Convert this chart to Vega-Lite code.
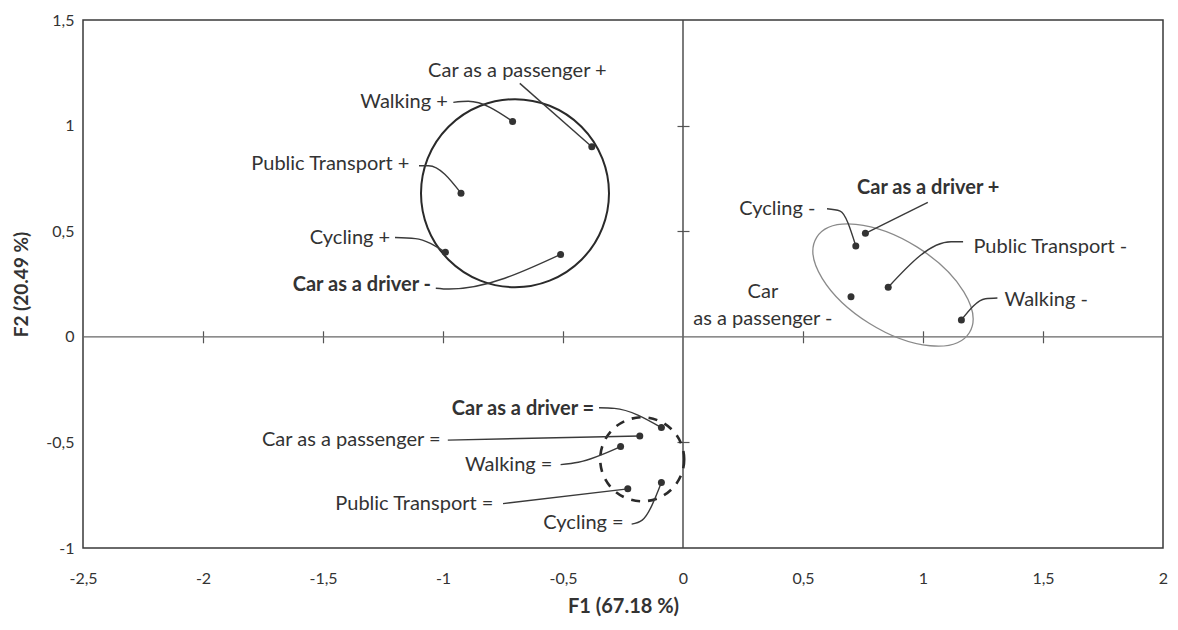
{
  "$schema": "https://vega.github.io/schema/vega-lite/v6.json",
  "width": 1080,
  "height": 528,
  "autosize": {"type": "none"},
  "padding": {"left": 83, "top": 20, "right": 15, "bottom": 82},
  "background": "white",
  "config": {
    "view": {"stroke": "#3a3a3a", "strokeWidth": 1.5},
    "font": "Lato",
    "text": {"font": "Lato", "fontSize": 20, "color": "#333333", "baseline": "middle"}
  },
  "datasets": {
    "origin": [{"F1": 0, "F2": 0}],
    "groups": [
      {"group": "+", "cx": -0.70, "cy": 0.68},
      {"group": "-", "cx": 0.875, "cy": 0.245},
      {"group": "=", "cx": -0.17, "cy": -0.58}
    ],
    "points": [
      {"modality": "Walking", "level": "+", "label": "Walking +", "F1": -0.71, "F2": 1.02, "lx": -0.98, "ly": 1.11},
      {"modality": "Car as a passenger", "level": "+", "label": "Car as a passenger +", "F1": -0.38, "F2": 0.90, "lx": -0.69, "ly": 1.26},
      {"modality": "Public Transport", "level": "+", "label": "Public Transport +", "F1": -0.925, "F2": 0.68, "lx": -1.14, "ly": 0.82},
      {"modality": "Cycling", "level": "+", "label": "Cycling +", "F1": -0.99, "F2": 0.40, "lx": -1.22, "ly": 0.467},
      {"modality": "Car as a driver", "level": "-", "label": "Car as a driver -", "F1": -0.51, "F2": 0.39, "lx": -1.05, "ly": 0.244},
      {"modality": "Cycling", "level": "-", "label": "Cycling -", "F1": 0.72, "F2": 0.43, "lx": 0.552, "ly": 0.606},
      {"modality": "Car as a driver", "level": "+", "label": "Car as a driver +", "F1": 0.76, "F2": 0.49, "lx": 0.725, "ly": 0.706},
      {"modality": "Public Transport", "level": "-", "label": "Public Transport -", "F1": 0.855, "F2": 0.235, "lx": 1.21, "ly": 0.425},
      {"modality": "Car as a passenger", "level": "-", "label": "Car\nas a passenger -", "F1": 0.70, "F2": 0.19, "lx": 0.333, "ly": 0.212},
      {"modality": "Walking", "level": "-", "label": "Walking -", "F1": 1.16, "F2": 0.08, "lx": 1.34, "ly": 0.176},
      {"modality": "Car as a driver", "level": "=", "label": "Car as a driver =", "F1": -0.09, "F2": -0.43, "lx": -0.37, "ly": -0.341},
      {"modality": "Car as a passenger", "level": "=", "label": "Car as a passenger =", "F1": -0.18, "F2": -0.47, "lx": -1.01, "ly": -0.49},
      {"modality": "Walking", "level": "=", "label": "Walking =", "F1": -0.26, "F2": -0.52, "lx": -0.544, "ly": -0.606},
      {"modality": "Public Transport", "level": "=", "label": "Public Transport =", "F1": -0.23, "F2": -0.72, "lx": -0.79, "ly": -0.79},
      {"modality": "Cycling", "level": "=", "label": "Cycling =", "F1": -0.09, "F2": -0.69, "lx": -0.247, "ly": -0.883}
    ],
    "leaders": [
      {"label": "Walking +", "seq": 1, "F1": -0.957, "F2": 1.11},
      {"label": "Walking +", "seq": 2, "F1": -0.895, "F2": 1.115},
      {"label": "Walking +", "seq": 3, "F1": -0.71, "F2": 1.02},
      {"label": "Car as a passenger +", "seq": 1, "F1": -0.68, "F2": 1.20},
      {"label": "Car as a passenger +", "seq": 2, "F1": -0.38, "F2": 0.90},
      {"label": "Public Transport +", "seq": 1, "F1": -1.10, "F2": 0.81},
      {"label": "Public Transport +", "seq": 2, "F1": -1.06, "F2": 0.81},
      {"label": "Public Transport +", "seq": 3, "F1": -0.925, "F2": 0.68},
      {"label": "Cycling +", "seq": 1, "F1": -1.20, "F2": 0.47},
      {"label": "Cycling +", "seq": 2, "F1": -1.115, "F2": 0.465},
      {"label": "Cycling +", "seq": 3, "F1": -0.99, "F2": 0.40},
      {"label": "Car as a driver -", "seq": 1, "F1": -1.03, "F2": 0.23},
      {"label": "Car as a driver -", "seq": 2, "F1": -0.975, "F2": 0.226},
      {"label": "Car as a driver -", "seq": 3, "F1": -0.51, "F2": 0.39},
      {"label": "Cycling -", "seq": 1, "F1": 0.60, "F2": 0.606},
      {"label": "Cycling -", "seq": 2, "F1": 0.655, "F2": 0.595},
      {"label": "Cycling -", "seq": 3, "F1": 0.72, "F2": 0.43},
      {"label": "Car as a driver +", "seq": 1, "F1": 1.02, "F2": 0.636},
      {"label": "Car as a driver +", "seq": 2, "F1": 0.76, "F2": 0.49},
      {"label": "Public Transport -", "seq": 1, "F1": 1.167, "F2": 0.45},
      {"label": "Public Transport -", "seq": 2, "F1": 1.117, "F2": 0.45},
      {"label": "Public Transport -", "seq": 3, "F1": 0.855, "F2": 0.235},
      {"label": "Walking -", "seq": 1, "F1": 1.31, "F2": 0.184},
      {"label": "Walking -", "seq": 2, "F1": 1.26, "F2": 0.18},
      {"label": "Walking -", "seq": 3, "F1": 1.16, "F2": 0.08},
      {"label": "Car as a driver =", "seq": 1, "F1": -0.35, "F2": -0.336},
      {"label": "Car as a driver =", "seq": 2, "F1": -0.286, "F2": -0.339},
      {"label": "Car as a driver =", "seq": 3, "F1": -0.09, "F2": -0.43},
      {"label": "Car as a passenger =", "seq": 1, "F1": -0.98, "F2": -0.489},
      {"label": "Car as a passenger =", "seq": 2, "F1": -0.18, "F2": -0.47},
      {"label": "Walking =", "seq": 1, "F1": -0.51, "F2": -0.605},
      {"label": "Walking =", "seq": 2, "F1": -0.436, "F2": -0.594},
      {"label": "Walking =", "seq": 3, "F1": -0.26, "F2": -0.52},
      {"label": "Public Transport =", "seq": 1, "F1": -0.75, "F2": -0.79},
      {"label": "Public Transport =", "seq": 2, "F1": -0.23, "F2": -0.72},
      {"label": "Cycling =", "seq": 1, "F1": -0.214, "F2": -0.887},
      {"label": "Cycling =", "seq": 2, "F1": -0.17, "F2": -0.868},
      {"label": "Cycling =", "seq": 3, "F1": -0.09, "F2": -0.69}
    ]
  },
  "layer": [
    {
      "data": {"name": "origin"},
      "mark": {"type": "rule", "stroke": "#444444", "strokeWidth": 1.4},
      "encoding": {
        "x": {"field": "F1", "type": "quantitative",
          "scale": {"domain": [-2.5, 2], "nice": false, "zero": false},
          "axis": {"orient": "bottom", "values": [-2.5, -2, -1.5, -1, -0.5, 0, 0.5, 1, 1.5, 2],
            "labelExpr": "replace(toString(datum.value), '.', ',')",
            "ticks": false, "domain": false, "grid": false, "labelFlush": false, "labelOverlap": false,
            "labelPadding": 22, "labelFontSize": 16, "labelColor": "#333333", "labelFont": "Lato",
            "title": "F1 (67.18 %)", "titleFontSize": 20, "titleFontWeight": "bold", "titleColor": "#333333",
            "titleFont": "Lato", "titlePadding": 10}}
      }
    },
    {
      "data": {"name": "origin"},
      "mark": {"type": "rule", "stroke": "#666666", "strokeWidth": 1.2},
      "encoding": {
        "y": {"field": "F2", "type": "quantitative",
          "scale": {"domain": [-1, 1.5], "nice": false, "zero": false},
          "axis": {"orient": "left", "values": [-1, -0.5, 0, 0.5, 1, 1.5],
            "labelExpr": "replace(toString(datum.value), '.', ',')",
            "ticks": false, "domain": false, "grid": false, "labelFlush": false, "labelOverlap": false,
            "labelPadding": 9, "labelFontSize": 16, "labelColor": "#333333", "labelFont": "Lato",
            "title": "F2 (20.49 %)", "titleFontSize": 19, "titleFontWeight": "bold", "titleColor": "#333333",
            "titleFont": "Lato", "titlePadding": 14}}
      }
    },
    {
      "data": {"name": "groups"},
      "transform": [{"filter": "datum.group === '+'"}],
      "mark": {"type": "point", "shape": "circle", "size": 35344, "filled": false, "stroke": "#2a2a2a", "strokeWidth": 2, "opacity": 1},
      "encoding": {
        "x": {"field": "cx", "type": "quantitative",
          "scale": {"domain": [-2.5, 2], "nice": false, "zero": false},
          "axis": {"orient": "bottom", "offset": -211.2, "values": [-2, -1.5, -1, -0.5, 0.5, 1, 1.5],
            "labels": false, "ticks": true, "tickSize": 6, "tickColor": "#555555", "tickWidth": 1.2,
            "domain": false, "grid": false, "title": null}},
        "y": {"field": "cy", "type": "quantitative",
          "scale": {"domain": [-1, 1.5], "nice": false, "zero": false},
          "axis": {"orient": "left", "offset": -600, "values": [-0.5, 0.5, 1],
            "labels": false, "ticks": true, "tickSize": 6, "tickColor": "#555555", "tickWidth": 1.2,
            "domain": false, "grid": false, "title": null}}
      }
    },
    {
      "data": {"name": "groups"},
      "transform": [{"filter": "datum.group === '-'"}],
      "mark": {"type": "point", "shape": "M -0.848 -0.53 A 1 0.5 32 0 1 0.848 0.53 A 1 0.5 32 0 1 -0.848 -0.53 Z",
        "size": 32400, "filled": false, "stroke": "#8a8a8a", "strokeWidth": 1.3, "opacity": 1},
      "encoding": {
        "x": {"field": "cx", "type": "quantitative",
          "scale": {"domain": [-2.5, 2], "nice": false, "zero": false},
          "axis": {"orient": "top", "offset": -316.8, "values": [-2, -1.5, -1, -0.5, 0.5, 1, 1.5],
            "labels": false, "ticks": true, "tickSize": 6, "tickColor": "#555555", "tickWidth": 1.2,
            "domain": false, "grid": false, "title": null}},
        "y": {"field": "cy", "type": "quantitative",
          "scale": {"domain": [-1, 1.5], "nice": false, "zero": false},
          "axis": {"orient": "right", "offset": -480, "values": [-0.5, 0.5, 1],
            "labels": false, "ticks": true, "tickSize": 6, "tickColor": "#555555", "tickWidth": 1.2,
            "domain": false, "grid": false, "title": null}}
      }
    },
    {
      "data": {"name": "groups"},
      "transform": [{"filter": "datum.group === '='"}],
      "mark": {"type": "point", "shape": "circle", "size": 7056, "filled": false, "stroke": "#2a2a2a", "strokeWidth": 2.6, "strokeDash": [9, 8], "opacity": 1},
      "encoding": {
        "x": {"field": "cx", "type": "quantitative", "axis": null},
        "y": {"field": "cy", "type": "quantitative", "axis": null}
      }
    },
    {
      "data": {"name": "leaders"},
      "mark": {"type": "line", "stroke": "#3a3a3a", "strokeWidth": 1.4, "interpolate": "monotone"},
      "encoding": {
        "x": {"field": "F1", "type": "quantitative", "axis": null},
        "y": {"field": "F2", "type": "quantitative", "axis": null},
        "detail": {"field": "label"},
        "order": {"field": "seq", "type": "quantitative"}
      }
    },
    {
      "data": {"name": "points"},
      "mark": {"type": "point", "shape": "circle", "filled": true, "size": 49, "color": "#333333", "opacity": 1},
      "encoding": {
        "x": {"field": "F1", "type": "quantitative", "axis": null},
        "y": {"field": "F2", "type": "quantitative", "axis": null}
      }
    },
    {
      "data": {"name": "points"},
      "transform": [{"filter": {"field": "label", "oneOf": ["Walking +", "Public Transport +", "Cycling +", "Cycling -", "Car as a passenger =", "Walking =", "Public Transport =", "Cycling ="]}}],
      "mark": {"type": "text", "align": "right"},
      "encoding": {
        "x": {"field": "lx", "type": "quantitative", "axis": null},
        "y": {"field": "ly", "type": "quantitative", "axis": null},
        "text": {"field": "label"}
      }
    },
    {
      "data": {"name": "points"},
      "transform": [{"filter": {"field": "label", "oneOf": ["Car as a driver -", "Car as a driver ="]}}],
      "mark": {"type": "text", "align": "right", "fontWeight": "bold"},
      "encoding": {
        "x": {"field": "lx", "type": "quantitative", "axis": null},
        "y": {"field": "ly", "type": "quantitative", "axis": null},
        "text": {"field": "label"}
      }
    },
    {
      "data": {"name": "points"},
      "transform": [{"filter": {"field": "label", "oneOf": ["Public Transport -", "Walking -"]}}],
      "mark": {"type": "text", "align": "left"},
      "encoding": {
        "x": {"field": "lx", "type": "quantitative", "axis": null},
        "y": {"field": "ly", "type": "quantitative", "axis": null},
        "text": {"field": "label"}
      }
    },
    {
      "data": {"name": "points"},
      "transform": [{"filter": {"field": "label", "oneOf": ["Car as a driver +"]}}],
      "mark": {"type": "text", "align": "left", "fontWeight": "bold"},
      "encoding": {
        "x": {"field": "lx", "type": "quantitative", "axis": null},
        "y": {"field": "ly", "type": "quantitative", "axis": null},
        "text": {"field": "label"}
      }
    },
    {
      "data": {"name": "points"},
      "transform": [{"filter": {"field": "label", "oneOf": ["Car as a passenger +", "Car\nas a passenger -"]}}],
      "mark": {"type": "text", "align": "center", "lineBreak": "\n", "lineHeight": 27},
      "encoding": {
        "x": {"field": "lx", "type": "quantitative", "axis": null},
        "y": {"field": "ly", "type": "quantitative", "axis": null},
        "text": {"field": "label"}
      }
    }
  ],
  "resolve": {"axis": {"x": "independent", "y": "independent"}}
}
